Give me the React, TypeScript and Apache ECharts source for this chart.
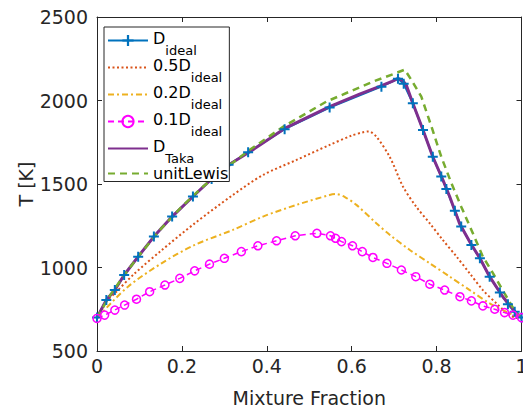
import React, { useEffect, useRef } from "react";
import * as echarts from "echarts";

const FONT = "DejaVu Sans";

// D_ideal (blue, + markers)
const xIdeal = [0, 0.022, 0.042, 0.064, 0.097, 0.134, 0.177, 0.226, 0.27, 0.31, 0.356, 0.442, 0.548, 0.67, 0.709, 0.7225, 0.744, 0.768, 0.791, 0.811, 0.823, 0.843, 0.858, 0.882, 0.902, 0.925, 0.949, 0.968, 0.984, 1.0];
const tIdeal = [700, 805, 865, 955, 1065, 1185, 1305, 1425, 1530, 1615, 1690, 1828, 1958, 2083, 2130, 2100, 1983, 1823, 1663, 1545, 1470, 1340, 1245, 1135, 1055, 945, 850, 780, 735, 700];

// 0.5 D_ideal (orange dotted)
const xHalf = [0, 0.02, 0.042, 0.089, 0.152, 0.23, 0.32, 0.391, 0.47, 0.548, 0.6, 0.627, 0.64, 0.658, 0.69, 0.721, 0.752, 0.784, 0.815, 0.847, 0.878, 0.909, 0.941, 0.972, 1.0];
const tHalf = [700, 790, 845, 965, 1103, 1264, 1434, 1554, 1644, 1734, 1790, 1810, 1815, 1784, 1660, 1484, 1364, 1264, 1164, 1065, 965, 865, 785, 715, 690];

// 0.2 D_ideal (yellow dash-dot)
const xFifth = [0, 0.01, 0.073, 0.152, 0.23, 0.32, 0.391, 0.47, 0.548, 0.564, 0.585, 0.611, 0.658, 0.69, 0.737, 0.784, 0.831, 0.878, 0.925, 0.972, 1.0];
const tFifth = [700, 726, 885, 1025, 1135, 1225, 1305, 1375, 1434, 1440, 1420, 1375, 1265, 1195, 1105, 1025, 945, 865, 785, 725, 700];

// 0.1 D_ideal (magenta dashed, circles)
const xTenth = [0, 0.018, 0.042, 0.065, 0.093, 0.124, 0.16, 0.195, 0.23, 0.265, 0.3, 0.34, 0.379, 0.423, 0.467, 0.518, 0.55, 0.562, 0.576, 0.602, 0.625, 0.65, 0.683, 0.717, 0.751, 0.784, 0.819, 0.855, 0.882, 0.909, 0.937, 0.96, 0.98, 1.0];
const tTenth = [695, 715, 745, 775, 810, 855, 895, 935, 980, 1020, 1055, 1095, 1130, 1160, 1190, 1205, 1190, 1175, 1155, 1130, 1095, 1060, 1025, 985, 945, 900, 865, 825, 800, 770, 750, 730, 715, 700];

// D_Taka (purple solid)
const xTaka = [0, 0.022, 0.042, 0.064, 0.097, 0.134, 0.177, 0.226, 0.27, 0.32, 0.36, 0.442, 0.548, 0.62, 0.666, 0.695, 0.709, 0.72, 0.729, 0.744, 0.768, 0.791, 0.815, 0.831, 0.854, 0.878, 0.902, 0.925, 0.956, 0.988, 1.0];
const tTaka = [700, 805, 865, 955, 1065, 1185, 1305, 1425, 1530, 1630, 1693, 1833, 1963, 2040, 2085, 2115, 2133, 2120, 2090, 1983, 1823, 1663, 1524, 1424, 1264, 1154, 1055, 945, 825, 725, 700];

// unitLewis (green dashed)
const xLewis = [0, 0.03, 0.06, 0.1, 0.15, 0.2, 0.25, 0.3, 0.36, 0.44, 0.54, 0.65, 0.7, 0.725, 0.7406, 0.764, 0.788, 0.811, 0.835, 0.858, 0.882, 0.909, 0.933, 0.96, 0.988, 1.0];
const tLewis = [700, 830, 940, 1075, 1230, 1365, 1485, 1590, 1705, 1845, 1993, 2113, 2160, 2185, 2123, 2023, 1843, 1663, 1504, 1364, 1225, 1065, 965, 845, 725, 700];

const xTicks = [0, 0.2, 0.4, 0.6, 0.8, 1];
const yTicks = [500, 1000, 1500, 2000, 2500];

const names = ["D_ideal", "0.5D_ideal", "0.2D_ideal", "0.1D_ideal", "D_Taka", "unitLewis"];
const legendLabels: Record<string, string> = {
  D_ideal: "{m|D}{s|ideal}",
  "0.5D_ideal": "{m|0.5D}{s|ideal}",
  "0.2D_ideal": "{m|0.2D}{s|ideal}",
  "0.1D_ideal": "{m|0.1D}{s|ideal}",
  D_Taka: "{m|D}{s|Taka}",
  unitLewis: "{u|unitLewis}",
};
const hasMarker = [true, false, false, true, false, false];

const zip = (xs: number[], ys: number[]) => xs.map((x, i) => [x, ys[i]]);

const AX = "#262626";
const PLUS = "path://M4,0H6V4H10V6H6V10H4V6H0V4H4Z";

export default function App() {
  const ref = useRef<HTMLDivElement>(null);
  useEffect(() => {
    if (!ref.current) return;
    const chart = echarts.init(ref.current, undefined, { renderer: "svg" });
    const axisCommon = {
      type: "value" as const,
      axisLine: { show: true, onZero: false, lineStyle: { color: AX, width: 1 } },
      axisTick: { show: true, inside: true, length: 5, lineStyle: { color: AX, width: 1 } },
      splitLine: { show: false },
      minorTick: { show: false },
    };
    chart.setOption({
      animation: false,
      backgroundColor: "#fff",
      textStyle: { fontFamily: FONT },
      grid: { left: 97, right: 1.5, top: 17, bottom: 58, containLabel: false, outerBoundsMode: "none" },
      xAxis: [
        {
          ...axisCommon,
          min: xTicks[0],
          max: xTicks[xTicks.length - 1],
          interval: 0.2,
          name: "Mixture Fraction",
          nameLocation: "middle",
          nameGap: 37,
          nameMoveOverlap: false,
          nameTextStyle: { fontSize: 19, color: AX, fontFamily: FONT },
          axisLabel: {
            show: true, fontSize: 19, color: AX, margin: 5, fontFamily: FONT,
            showMaxLabel: true, showMinLabel: true, hideOverlap: false,
            formatter: (v: number) => String(Math.round(v * 10) / 10),
          },
        },
        {
          ...axisCommon,
          position: "top",
          min: 0,
          max: 1,
          interval: 0.2,
          axisLabel: { show: false },
        },
      ],
      yAxis: [
        {
          ...axisCommon,
          min: yTicks[0],
          max: yTicks[yTicks.length - 1],
          interval: 500,
          name: "T [K]",
          nameLocation: "middle",
          nameGap: 62,
          nameRotate: 90,
          nameMoveOverlap: false,
          nameTextStyle: { fontSize: 19, color: AX, fontFamily: FONT },
          axisLabel: {
            show: true, fontSize: 19, color: AX, margin: 9, fontFamily: FONT,
            showMaxLabel: true, showMinLabel: true, hideOverlap: false,
            formatter: (v: number) => String(Math.round(v)),
          },
        },
        {
          ...axisCommon,
          position: "right",
          min: 500,
          max: 2500,
          interval: 500,
          axisLabel: { show: false },
        },
      ],
      legend: {
        orient: "vertical",
        left: 104,
        top: 27,
        itemWidth: 40,
        itemHeight: 14,
        itemGap: 1,
        padding: [3.5, 1, 0, 3],
        backgroundColor: "#fff",
        borderColor: AX,
        borderWidth: 1,
        borderRadius: 0,
        selectedMode: false,
        data: names.map((n, i) => (hasMarker[i] ? { name: n } : { name: n, itemStyle: { opacity: 0 } })),
        formatter: (n: string) => legendLabels[n],
        textStyle: {
          fontFamily: FONT,
          color: "#000",
          rich: {
            m: { fontSize: 16, lineHeight: 20, verticalAlign: "top", fontFamily: FONT, color: "#000" },
            s: { fontSize: 13, lineHeight: 12, padding: [13, 0, 0, 0], verticalAlign: "top", fontFamily: FONT, color: "#000" },
            u: { fontSize: 16, lineHeight: 20, fontFamily: FONT, color: "#000" },
          },
        },
      },
      series: [
        {
          name: names[0],
          type: "line",
          data: zip(xIdeal, tIdeal),
          symbol: PLUS,
          symbolSize: 10,
          showSymbol: true,
          showAllSymbol: true,
          itemStyle: { color: "#0072BD" },
          lineStyle: { color: "#0072BD", width: 2 },
          z: 2,
        },
        {
          name: names[1],
          type: "line",
          data: zip(xHalf, tHalf),
          symbol: "none",
          smooth: 0.3,
          itemStyle: { color: "#D95319" },
          lineStyle: { color: "#D95319", width: 2, type: [2, 2.5] },
          z: 2,
        },
        {
          name: names[2],
          type: "line",
          data: zip(xFifth, tFifth),
          symbol: "none",
          smooth: 0.3,
          itemStyle: { color: "#EDB120" },
          lineStyle: { color: "#EDB120", width: 2, type: [6, 3, 2, 3] },
          z: 2,
        },
        {
          name: names[3],
          type: "line",
          data: zip(xTenth, tTenth),
          symbol: "circle",
          symbolSize: 8,
          showSymbol: true,
          showAllSymbol: true,
          itemStyle: { color: "none", borderColor: "#FF00FF", borderWidth: 1.5 },
          lineStyle: { color: "#FF00FF", width: 1.5, type: [6, 4] },
          z: 2,
        },
        {
          name: names[4],
          type: "line",
          data: zip(xTaka, tTaka),
          symbol: "none",
          itemStyle: { color: "#7E2F8E" },
          lineStyle: { color: "#7E2F8E", width: 3 },
          z: 2,
        },
        {
          name: names[5],
          type: "line",
          data: zip(xLewis, tLewis),
          symbol: "none",
          itemStyle: { color: "#77AC30" },
          lineStyle: { color: "#77AC30", width: 2.5, type: [7, 5] },
          z: 2,
        },
      ],
    });
    return () => chart.dispose();
  }, []);
  return (
    <div
      ref={ref}
      style={{ position: "fixed", left: 0, top: 0, width: 523, height: 409, background: "#fff" }}
    />
  );
}
